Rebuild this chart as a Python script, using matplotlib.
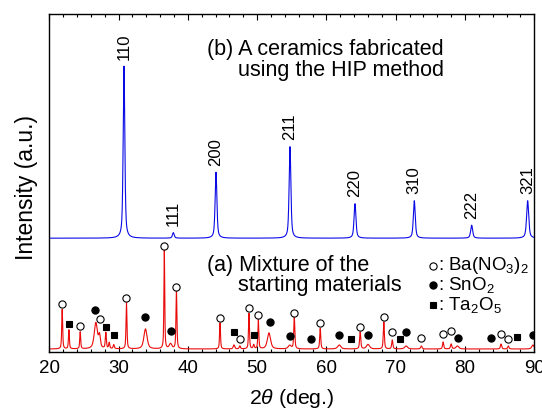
import numpy as np
import matplotlib
matplotlib.use("Agg")
import matplotlib.pyplot as plt
from matplotlib.ticker import MultipleLocator

plt.rcParams["font.family"] = ["Liberation Sans", "DejaVu Sans"]
plt.rcParams["mathtext.fontset"] = "custom"
plt.rcParams["mathtext.rm"] = "Liberation Sans"
plt.rcParams["mathtext.it"] = "Liberation Sans:italic"

# ── (b) HIP ceramics: peak list (2θ, height, FWHM) ──────────────────────────
hip_pos    = [30.78, 37.90, 44.06, 54.74, 64.12, 72.68, 80.96, 89.04]
hip_height = [172.0, 5.5, 66.0, 91.5, 34.5, 37.5, 13.0, 37.5]
hip_fwhm   = [0.28, 0.30, 0.30, 0.30, 0.32, 0.32, 0.34, 0.36]
hip_labels = ["110", "111", "200", "211", "220", "310", "222", "321"]
hip_base   = 113.5

# ── (a) starting mixture: peak list (2θ, height, FWHM) ──────────────────────
mix_pos    = [21.86, 22.83, 24.46, 26.72, 27.25, 28.16, 28.65, 29.30, 31.14,
              33.88, 36.60, 37.50, 38.35, 44.64, 46.65, 47.50, 48.82, 49.50,
              50.17, 51.70, 54.70, 55.36, 59.10, 61.85, 64.87, 66.00, 68.28,
              69.50, 71.50, 73.70, 76.84, 78.00, 78.90, 85.20, 86.25, 89.80]
mix_height = [39.5, 19.0, 17.0, 26.0, 12.0, 16.0, 6.0, 4.0, 46.0,
              20.0, 99.5, 5.0, 58.0, 26.0, 4.0, 3.0, 35.5, 4.0,
              29.0, 16.0, 3.5, 32.0, 20.5, 4.0, 17.0, 4.5, 27.0,
              9.0, 3.0, 3.0, 7.0, 5.0, 3.0, 5.0, 3.0, 4.0]
mix_fwhm   = [0.16, 0.16, 0.16, 0.55, 0.30, 0.18, 0.18, 0.20, 0.16,
              0.55, 0.14, 0.45, 0.16, 0.16, 0.25, 0.20, 0.16, 0.20,
              0.16, 0.55, 0.50, 0.18, 0.18, 0.55, 0.20, 0.55, 0.18,
              0.20, 0.50, 0.25, 0.20, 0.22, 0.50, 0.22, 0.22, 0.40]
mix_base   = 2.7

# ── phase markers above the mixture pattern ────────────────────────────────
ba_x = [21.86, 24.46, 27.30, 31.14, 36.60, 38.35, 44.64, 47.50, 48.82, 50.17,
        55.36, 59.10, 64.87, 68.28, 69.50, 73.70, 76.84, 78.00, 85.20, 86.25]
ba_y = [47.7, 26.0, 33.0, 53.4, 106.0, 65.0, 34.0, 12.7, 44.0, 36.7,
        39.0, 29.0, 25.0, 34.4, 20.0, 13.7, 17.4, 21.0, 18.0, 12.7]
sn_x = [26.57, 33.88, 37.50, 51.80, 54.70, 57.80, 61.85, 66.00, 71.50, 79.00,
        83.80, 89.80]
sn_y = [41.7, 34.4, 21.0, 29.7, 16.0, 12.4, 16.7, 16.7, 19.4, 13.4,
        13.4, 16.7]
ta_x = [22.83, 28.16, 29.30, 46.60, 49.50, 63.58, 70.55, 87.50]
ta_y = [27.7, 24.4, 16.7, 19.7, 16.7, 12.7, 12.7, 14.4]


def pattern(x, pos, height, fwhm, base, eta=0.6):
    """Pseudo-Voigt sum for a list of diffraction peaks."""
    y = np.full_like(x, base)
    for p, h, w in zip(pos, height, fwhm):
        g = np.exp(-4 * np.log(2) * ((x - p) / w) ** 2)
        l = 1.0 / (1.0 + 4 * ((x - p) / w) ** 2)
        y += h * (eta * l + (1 - eta) * g)
    return y


two_theta = np.arange(20.0, 90.0001, 0.01)
hip = pattern(two_theta, hip_pos, hip_height, hip_fwhm, hip_base)
mix = pattern(two_theta, mix_pos, mix_height, mix_fwhm, mix_base)

fig = plt.figure(figsize=(5.42, 4.09), dpi=100)
ax = fig.add_axes([49.3 / 542, 1 - 351.7 / 409, 485 / 542, 337.7 / 409])

ax.plot(two_theta, hip, color="#0a0ae6", lw=0.8)
ax.plot(two_theta, mix, color="#ea0a0a", lw=0.8)

# hkl labels over the HIP peaks
for p, h, lab in zip(hip_pos, hip_height, hip_labels):
    ax.annotate(lab, (p, hip_base + h), xytext=(0, 4.5), textcoords="offset points",
                rotation=90, ha="center", va="bottom", fontsize=12)

mk = dict(ms=5.2, mew=0.8, ls="none", color="black")
ax.plot(ba_x, ba_y, "o", mfc="white", **mk)
ax.plot(sn_x, sn_y, "o", mfc="black", **mk)
ax.plot(ta_x, ta_y, "s", mfc="black", **{**mk, "ms": 4.8})

# panel captions
ax.text(42.82, 302.4, "(b) A ceramics fabricated", fontsize=15.5, va="center")
ax.text(47.2, 281.7, "using the HIP method", fontsize=15.5, va="center")
ax.text(42.82, 86.7, "(a) Mixture of the", fontsize=15.5, va="center")
ax.text(47.2, 66.7, "starting materials", fontsize=15.5, va="center")

# phase key
key_y = [86.0, 66.7, 46.7]
ax.plot([75.45], [key_y[0]], "o", mfc="white", **mk)
ax.plot([75.45], [key_y[1]], "o", mfc="black", **mk)
ax.plot([75.45], [key_y[2]], "s", mfc="black", **{**mk, "ms": 4.8})
ax.text(76.1, key_y[0], r": Ba(NO$_3$)$_2$", fontsize=13.5, va="center")
ax.text(76.1, key_y[1], r": SnO$_2$", fontsize=13.5, va="center")
ax.text(76.1, key_y[2], r": Ta$_2$O$_5$", fontsize=13.5, va="center")

ax.set_xlim(20, 90)
ax.set_ylim(0, 337.7)
ax.set_yticks([])
ax.xaxis.set_major_locator(MultipleLocator(10))
ax.xaxis.set_minor_locator(MultipleLocator(2))
ax.tick_params(axis="x", which="both", direction="in", top=True, labelsize=13.5, pad=6)
ax.tick_params(axis="x", which="major", length=4, width=0.8)
ax.tick_params(axis="x", which="minor", length=2.5, width=0.8)
for s in ax.spines.values():
    s.set_linewidth(1.0)

ax.set_xlabel(r"2$\it{\theta}$ (deg.)", fontsize=15.3, labelpad=7)
ax.set_ylabel("Intensity (a.u.)", fontsize=16.5)
ax.yaxis.set_label_coords(-0.024, 0.485)

fig.savefig("out.png", dpi=100)
